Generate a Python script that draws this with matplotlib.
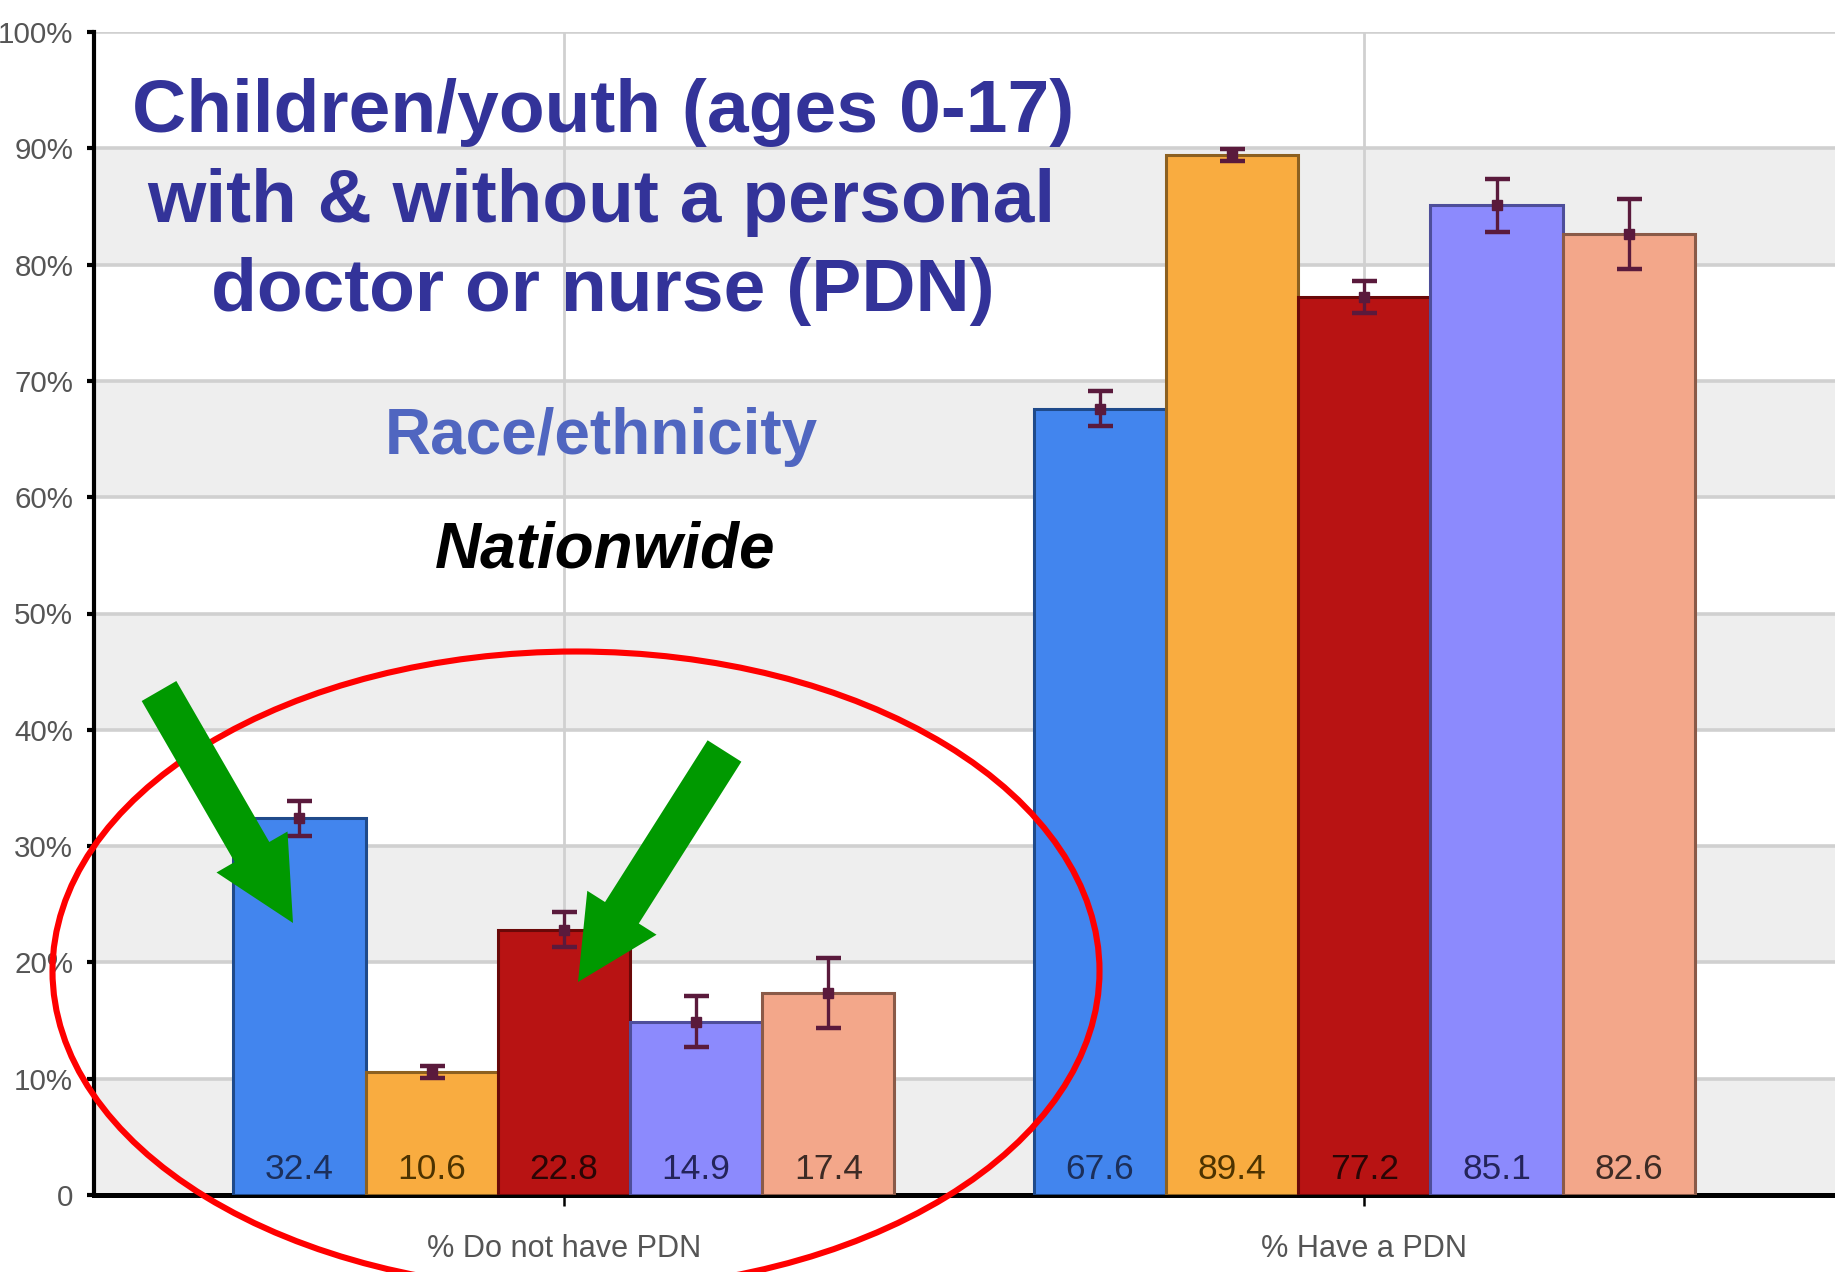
import matplotlib
matplotlib.use("Agg")
import matplotlib.pyplot as plt
from matplotlib import font_manager
from matplotlib.patches import Ellipse, FancyArrow
import numpy as np

# ---------------- data ----------------
groups = ["% Do not have PDN", "% Have a PDN"]
series = ["Group A", "Group B", "Group C", "Group D", "Group E"]
values_no_pdn = [32.4, 10.6, 22.8, 14.9, 17.4]
values_pdn = [67.6, 89.4, 77.2, 85.1, 82.6]
err_no_pdn = [1.5, 0.5, 1.5, 2.2, 3.0]
err_pdn = [1.5, 0.5, 1.4, 2.3, 3.0]
yticks = [0, 10, 20, 30, 40, 50, 60, 70, 80, 90, 100]
ytick_labels = ["0", "10%", "20%", "30%", "40%", "50%", "60%", "70%", "80%", "90%", "100%"]

bar_colors = ["#4285ee", "#f9ac40", "#b81313", "#8c8afd", "#f3a78a"]
edge_colors = ["#1f4a8a", "#8c6020", "#6a0808", "#4e4e9a", "#8a5a48"]
label_colors = ["#1c2f5a", "#4d3300", "#2a0505", "#24245a", "#3d2b25"]

# ---------------- fonts ----------------
names = {f.name for f in font_manager.fontManager.ttflist}
narrow = "Liberation Sans Narrow" if "Liberation Sans Narrow" in names else "Liberation Sans"
narrow_scale = 1.0 if narrow == "Liberation Sans Narrow" else 0.85

W, H = 1835, 1272
fig = plt.figure(figsize=(W / 100, H / 100), dpi=100)
fig.patch.set_facecolor("white")

ax = fig.add_axes([94 / W, 1 - 1195 / H, 1 - 94 / W, (1195 - 32) / H])
ax.set_xlim(-0.587, 1.588)
ax.set_ylim(0, 100)

# alternating bands
for lo in range(0, 100, 20):
    ax.axhspan(lo, lo + 10, color="#eeeeee", zorder=0, lw=0)
for y in yticks[1:]:
    ax.axhline(y, color="#d0d0d0", lw=2.6, zorder=1)
for xc in range(len(groups)):
    ax.axvline(xc, color="#d0d0d0", lw=2.0, zorder=1)

w = 0.1652
offsets = (np.arange(len(series)) - 2) * w
all_vals = [values_no_pdn, values_pdn]
all_errs = [err_no_pdn, err_pdn]
for gi in range(len(groups)):
    for si in range(len(series)):
        x = gi + offsets[si]
        v = all_vals[gi][si]
        ax.bar(x, v, width=w, color=bar_colors[si], edgecolor=edge_colors[si],
               linewidth=2.2, zorder=3)
        ax.errorbar(x, v, yerr=all_errs[gi][si], fmt="s", color="#5a1a3c",
                    markersize=7, elinewidth=2.4, capsize=9, capthick=3.2, zorder=4)
        ax.text(x, 2.2, f"{v:.1f}", ha="center", va="center",
                fontsize=30 * narrow_scale, family=narrow, color=label_colors[si], zorder=5)

ax.set_yticks(yticks)
ax.set_yticklabels(ytick_labels, family=narrow, fontsize=25 * narrow_scale, color="#555555")
ax.set_xticks(range(len(groups)))
ax.set_xticklabels(groups, family=narrow, fontsize=26 * narrow_scale, color="#555555")
ax.tick_params(axis="y", length=5, width=3, pad=10, color="black")
ax.tick_params(axis="x", length=8, width=1.8, pad=20, color="black")
for s in ["top", "right"]:
    ax.spines[s].set_visible(False)
ax.spines["left"].set_linewidth(3)
ax.spines["bottom"].set_linewidth(3.6)

# ---------------- overlay annotations (pixel coords) ----------------
ov = fig.add_axes([0, 0, 1, 1], zorder=10)
ov.set_xlim(0, W)
ov.set_ylim(H, 0)
ov.axis("off")
ov.patch.set_alpha(0)

title_color = "#333399"
ov.text(603, 132, "Children/youth (ages 0-17)", ha="center", va="baseline",
        fontsize=54, fontweight="bold", family="Liberation Sans", color=title_color)
ov.text(601, 222, "with & without a personal", ha="center", va="baseline",
        fontsize=54, fontweight="bold", family="Liberation Sans", color=title_color)
ov.text(603, 311, "doctor or nurse (PDN)", ha="center", va="baseline",
        fontsize=54, fontweight="bold", family="Liberation Sans", color=title_color)
ov.text(601, 454, "Race/ethnicity", ha="center", va="baseline",
        fontsize=46, fontweight="bold", family="Liberation Sans", color="#5066c0")
ov.text(605, 568, "Nationwide", ha="center", va="baseline",
        fontsize=46, fontweight="bold", fontstyle="italic", family="Liberation Sans", color="black")

ov.add_patch(Ellipse((576, 971), 1047, 639, fill=False, edgecolor="#ff0000", lw=4.4, clip_on=False))

green = "#009900"
ov.add_patch(FancyArrow(159, 691, 293 - 159, 923 - 691, width=40, head_width=82, head_length=82,
                        length_includes_head=True, color=green, lw=0))
ov.add_patch(FancyArrow(724.5, 751, 578 - 724.5, 982 - 751, width=40, head_width=82, head_length=82,
                        length_includes_head=True, color=green, lw=0))

fig.savefig("out.png", dpi=100)
